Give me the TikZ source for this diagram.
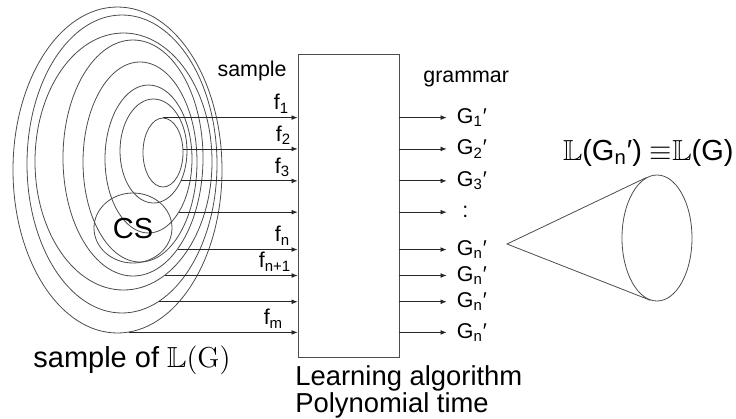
\documentclass[tikz,border=0pt]{standalone}
\usepackage[no-math]{fontspec}
\usepackage{amssymb}
\setmainfont{Liberation Sans}
\usetikzlibrary{shapes.geometric, arrows.meta}

\begin{document}
\begin{tikzpicture}[x=0.5pt, y=-0.5pt,
    ring/.style={ellipse, draw=black!70, inner sep=0pt},
    feed/.style={-{Latex[length=3pt, width=2.4pt]}, black!85},
    lbl/.style={font=\fontsize{10.7}{12}\selectfont, inner sep=1pt},
    big/.style={font=\fontsize{14.5}{14}\selectfont, inner sep=0pt}]
    \useasboundingbox (0,0) rectangle (736,419);

    % nested samples
    \foreach \n/\cx/\cy/\rx/\ry in {1/163/152.5/20/34.5, 2/153.5/151/33.5/52, 3/148.5/159/43.5/74, 4/140/162/57/100,
        5/133/158/70/118, 6/123.5/161.5/88.5/128.5, 7/122/164/95/149, 8/117.5/170/104.5/163}
        \node[ring, minimum width=\rx pt, minimum height=\ry pt] (e\n) at (\cx,\cy) {};
    \node[ring, minimum width=39pt, minimum height=35pt] (cs) at (133,228) {};
    \node[big] (cstxt) at (133,229) {CS};
    \node[big, anchor=base west] (lang) at (33,367) {sample of $\mathbb{L}(\mathrm{G})$};

    % learner
    \node[draw=black!70, minimum width=50.5pt, minimum height=151.5pt, inner sep=0pt] (alg) at (348.5,205.5) {};
    \node[font=\fontsize{13.7}{13.5}\selectfont, align=left, anchor=north west, inner sep=0pt] (algtxt) at (295,365)
        {Learning algorithm\\Polynomial time};
    \node[lbl, anchor=base east] (smp) at (289,76) {sample};
    \node[lbl, anchor=base west] (gram) at (421,82) {grammar};

    \foreach \s/\t in {e1.north/a1, e1.10/a2, e2.-47.6/a3, e3.-60.2/a4, e5.-64.5/a5, e6.-70.6/a6, e7.-75.5/a7, e8.-86/a8}
        \draw[feed] (\s) -- (\s -| alg.west) coordinate (\t);

    \foreach \t/\f/\dx/\txt in {a1/f1/3/1, a2/f2/2/2, a3/f3/2.5/3, a5/fn/2.5/n, a6/fnn/2/n+1, a8/fm/6/m}
        \node[lbl, anchor=south east] (\f) at ([xshift=-\dx pt, yshift=1pt]\t) {f\textsubscript{\txt}};

    % grammars out of the learner
    \foreach \t/\g/\txt in {a1/g1/{G\textsubscript{1}′}, a2/g2/{G\textsubscript{2}′}, a3/g3/{G\textsubscript{3}′},
        a4/g4/{\makebox[8.3pt]{:}}, a5/g5/{G\textsubscript{n}′}, a6/g6/{G\textsubscript{n}′},
        a7/g7/{G\textsubscript{n}′}, a8/g8/{G\textsubscript{n}′}} {
        \node[lbl, anchor=west, inner xsep=5pt] (\g) at ([xshift=74.5pt]\t) {\txt};
        \draw[feed] (alg.east |- \g.west) -- (\g.west);
    }

    % cone
    \node[ring, minimum width=35pt, minimum height=63pt] (cone) at (657,238) {};
    \coordinate (tip) at (507,244);
    \draw[black!70] (cone.100) -- (tip) -- (cone.-96);
    \node[big, anchor=base east] (eqv) at (734,160) {$\mathbb{L}$(G\textsubscript{n}′) ${\equiv}{\mathbb{L}}$(G)};
\end{tikzpicture}
\end{document}
